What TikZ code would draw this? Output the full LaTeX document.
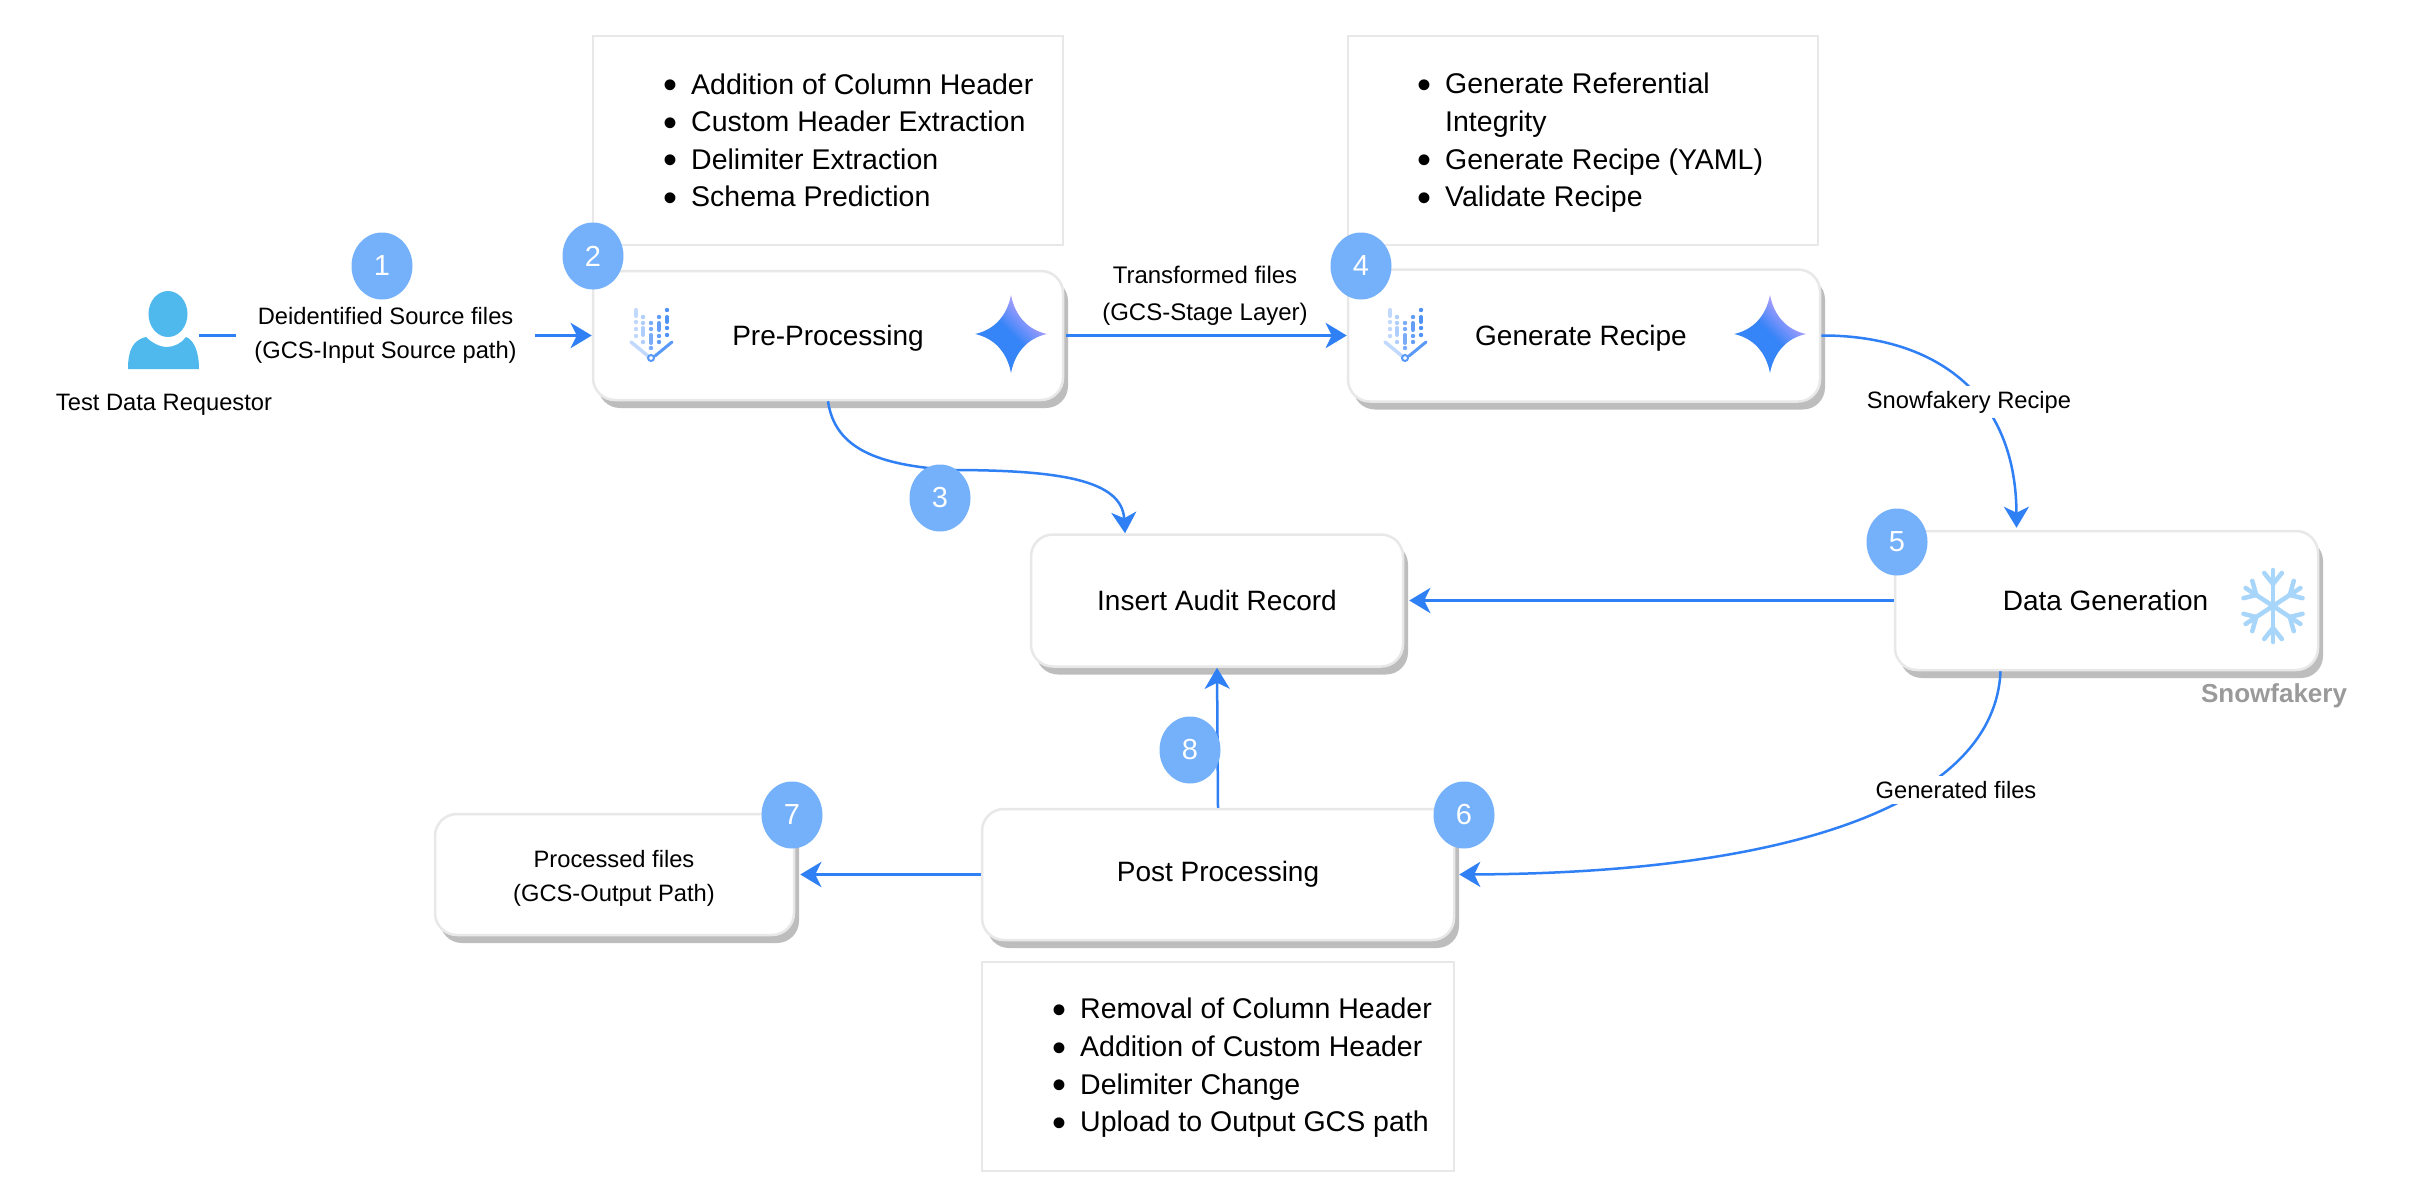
\documentclass[tikz,border=0pt]{standalone}
\usepackage{graphicx}
\usepackage{fontspec}
\setmainfont{Liberation Sans}
\usetikzlibrary{arrows.meta,shapes.geometric,shadows,calc}
\definecolor{flowblue}{HTML}{2F7FF5}
\definecolor{badgeblue}{HTML}{75B0FB}
\definecolor{personblue}{HTML}{4FB9EE}
\definecolor{rimgray}{HTML}{E8E8E8}
\definecolor{shadowgray}{HTML}{BDBDBD}
\definecolor{flakeblue}{HTML}{A8D5FA}
\definecolor{mutedgray}{HTML}{9A9A9A}
\definecolor{starblue}{HTML}{3584F8}
\definecolor{starviolet}{HTML}{D8A8FF}
\newcommand{\bul}{\makebox[26pt][l]{\hspace*{-2pt}\raisebox{-4.5pt}{\scalebox{1.4}{•}}}}
\newcommand{\lowtext}[1]{\raisebox{-10.3pt}[0pt][0pt]{#1}}
\tikzset{
  x=1pt,y=-1pt,
  procbox/.style={draw=rimgray,line width=2.5pt,fill=white,rounded corners=22pt,inner sep=0pt,align=center,
    font=\fontsize{28}{33}\selectfont,
    drop shadow={opacity=1,fill=shadowgray,shadow xshift=5pt,shadow yshift=-8pt}},
  notebox/.style={draw=rimgray,line width=2.5pt,fill=white,inner sep=0pt},
  notetext/.style={anchor=west,inner sep=0pt,align=left,font=\fontsize{28.5}{37.6}\selectfont},
  edgetext/.style={inner sep=0pt,align=center,font=\fontsize{23.7}{34}\selectfont},
  edgegap/.style={edgetext,fill=white,inner xsep=18pt,inner ysep=5pt},
  badge/.style={ellipse,fill=badgeblue,text=white,minimum width=61pt,minimum height=67pt,inner sep=0pt,
    font=\fontsize{29}{29}\selectfont},
  flow/.style={draw=flowblue,line width=3.5pt,-{Stealth[length=21pt,width=25pt,inset=6pt]}},
  flowthin/.style={draw=flowblue,line width=2.5pt,-{Stealth[length=21pt,width=25pt,inset=6pt]}},
  gemstar/.pic={
    \shade[left color=starblue,right color=starviolet,middle color=starblue,shading angle=135]
      (0,-39) .. controls (4,-18) and (17,-4) .. (36,0)
      .. controls (17,4) and (4,18) .. (0,39)
      .. controls (-4,18) and (-17,4) .. (-36,0)
      .. controls (-17,-4) and (-4,-18) .. (0,-39) -- cycle;
  },
  datafunnel/.pic={
    \begin{scope}[line cap=round]
      \draw[line width=4pt,color=flowblue!30] (-16,-25) -- (-16,-19);
      \foreach \yy in {-13,-6,1}{\fill[flowblue!30] (-16,\yy) circle (2.2);}
      \foreach \yy in {-18,-12,7}{\fill[flowblue!38] (-9,\yy) circle (2.2);}
      \draw[line width=4pt,color=flowblue!38] (-9,-7) -- (-9,0);
      \foreach \yy in {-12,-6,13}{\fill[flowblue!65] (-1,\yy) circle (2.2);}
      \draw[line width=4pt,color=flowblue!65] (-1,0) -- (-1,8);
      \foreach \yy in {-18,1,7}{\fill[flowblue!75] (7,\yy) circle (2.2);}
      \draw[line width=4pt,color=flowblue!75] (7,-12) -- (7,-5);
      \foreach \yy in {-25,-7,0}{\fill[flowblue!85] (15,\yy) circle (2.2);}
      \draw[line width=4pt,color=flowblue!85] (15,-18) -- (15,-13);
      \draw[line width=3.5pt,color=flowblue!30] (-21,7) -- (-4,21);
      \draw[line width=3pt,color=flowblue!80] (20,7) -- (3,21);
      \draw[line width=2pt,color=flowblue!80,fill=white] (-1,23) circle (3);
    \end{scope}
  },
  snowflake/.pic={
    \begin{scope}[xscale=0.88]
    \foreach \aa in {90,150,210,270,330,30}{
      \begin{scope}[rotate=\aa]
        \draw[flakeblue,line width=4.5pt,line cap=round] (0,0) -- (36,0);
        \draw[flakeblue,line width=4.5pt,line cap=round] (22,0) -- (33,10);
        \draw[flakeblue,line width=4.5pt,line cap=round] (22,0) -- (33,-10);
      \end{scope}
    }
    \end{scope}
  },
}
\begin{document}
\begin{tikzpicture}
\useasboundingbox (0,0) rectangle (2412,1188);
\fill[white] (0,0) rectangle (2412,1188);

% note frames
\node[notebox,minimum width=470pt,minimum height=209pt] (noteA) at (828,140.5) {};
\node[notebox,minimum width=470pt,minimum height=209pt] (noteB) at (1583,140.5) {};
\node[notebox,minimum width=472pt,minimum height=209pt] (noteC) at (1218,1066.5) {};
\node[notetext] (noteAtext) at (665,142.5) {\bul Addition of Column Header\\\bul Custom Header Extraction\\\bul Delimiter Extraction\\\bul Schema Prediction};
\node[notetext] (noteBtext) at (1419,143) {\bul Generate Referential\\\hspace*{26pt}Integrity\\\bul Generate Recipe (YAML)\\\bul Validate Recipe};
\node[notetext] (noteCtext) at (1054,1068) {\bul Removal of Column Header\\\bul Addition of Custom Header\\\bul Delimiter Change\\\bul Upload to Output GCS path};

% process boxes
\node[procbox,minimum width=470pt,minimum height=129pt] (pre) at (828,335.5) {\lowtext{Pre-Processing}};
\node[procbox,minimum width=472pt,minimum height=132pt] (gen) at (1584,335.5) {\hspace*{-6pt}\lowtext{Generate Recipe}};
\node[procbox,minimum width=372pt,minimum height=132pt] (audit) at (1217,600.5) {Insert Audit Record};
\node[procbox,minimum width=423pt,minimum height=139pt] (data) at (2106.5,600.5) {\hspace*{-2pt}Data Generation};
\node[procbox,minimum width=472pt,minimum height=131pt] (post) at (1218,874.5) {Post Processing};
\node[procbox,minimum width=359pt,minimum height=121pt] (done) at (614.5,874.5) {};
\node[edgetext] (donetext) at (614,878) {Processed files\\(GCS-Output Path)};

% person
\fill[personblue] (168,314) ellipse (19.5 and 23);
\fill[personblue] (128,369) .. controls (128,350) and (133,340) .. (146,337)
  .. controls (152,343) and (160,347) .. (167,347)
  .. controls (174,347) and (182,343) .. (186,337)
  .. controls (194,340) and (199,352) .. (199,369) -- cycle;
\coordinate (person) at (199,335.5);
\node[edgetext] (personname) at (164,405) {Test Data Requestor};

% icons
\pic at (652,335) {datafunnel};
\pic at (1406,335) {datafunnel};
\pic at (1011,334) {gemstar};
\pic at (1770,334) {gemstar};
\pic at (2273,606) {snowflake};
\node[inner sep=0pt,text=mutedgray,font=\bfseries\fontsize{26}{28}\selectfont] (snowname) at (2274,696) {Snowfakery};

% connectors
\draw[flow] (person) -- node[edgegap,pos=0.475] (srclabel) {Deidentified Source files\\(GCS-Input Source path)} (pre.west);
\draw[flow] ([xshift=2pt]pre.east) -- (gen.west);
\node[edgetext,font=\fontsize{24}{37}\selectfont] (stagelabel) at (1205,295.5) {Transformed files\\(GCS-Stage Layer)};
\coordinate (auditin) at ($(audit.north)+(-92,0)$);
\draw[flowthin] (pre.south) .. controls (835,450) and (880,465) .. (950,470)
  .. controls (1060,470) and (1122,480) .. (auditin);
\draw[flowthin] (gen.east) .. controls (1930,335) and (2016,390) .. ($(data.north)+(-90,-2)$);
\node[edgetext,fill=white,inner xsep=4pt,inner ysep=5pt] (recipelabel) at (1969,402) {Snowfakery Recipe};
\draw[flow] (data.west) -- ([xshift=5pt]audit.east);
\draw[flowthin] ($(data.south)+(-106,0)$) .. controls (1995,800) and (1800,873) .. ([xshift=4pt]post.east);
\node[edgetext,fill=white,inner xsep=4pt,inner ysep=5pt] (genlabel) at (1956,790) {Generated files};
\draw[flow] (post.west) -- ([xshift=5pt]done.east);
\draw[flowthin] (post.north) -- (audit.south);

% badges
\node[badge] (b1) at (382,266) {1};
\node[badge] (b2) at (593,256) {2};
\node[badge] (b3) at (940,498) {3};
\node[badge] (b4) at (1361,266) {4};
\node[badge] (b5) at (1897,542) {5};
\node[badge] (b6) at (1464,815) {6};
\node[badge] (b7) at (792,815) {7};
\node[badge] (b8) at (1190,750) {8};
\end{tikzpicture}
\end{document}
